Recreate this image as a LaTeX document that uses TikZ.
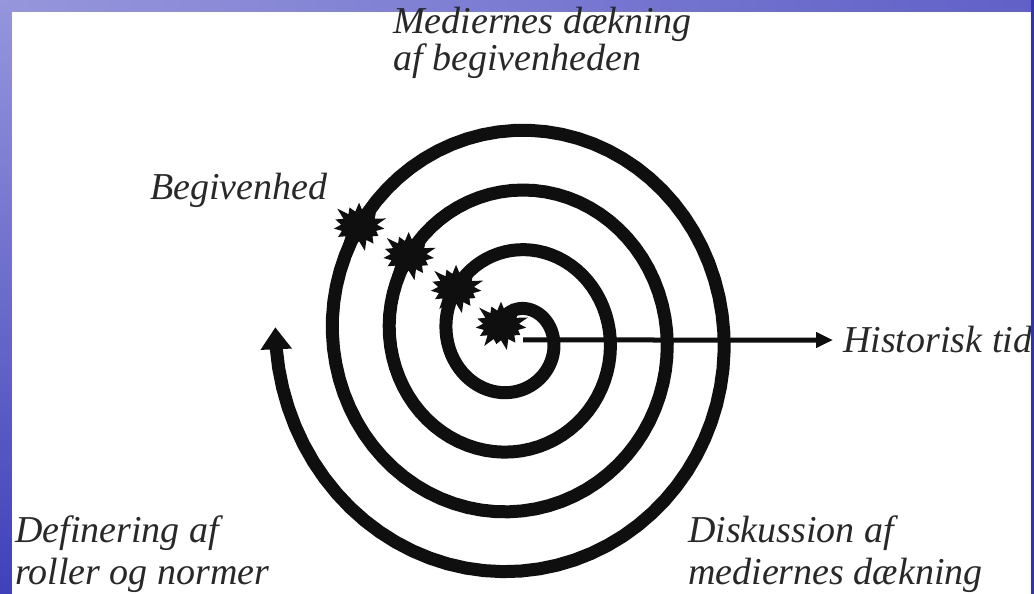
\documentclass[tikz,border=0pt]{standalone}
\usepackage{fontspec}
\setmainfont{Liberation Serif}
\usetikzlibrary{
  arrows.meta,
  shapes.symbols
}
\definecolor{inkblack}{RGB}{15,15,15}
\definecolor{labelgray}{RGB}{40,40,40}
\definecolor{framelight}{RGB}{150,150,220}
\definecolor{framemid}{RGB}{96,96,200}
\definecolor{framedark}{RGB}{64,64,186}
\definecolor{frameedge}{RGB}{52,52,170}

\begin{document}
\pgfmathsetseed{7}
\begin{tikzpicture}[x=1pt, y=1pt,
    every node/.style={inner sep=0pt, text=labelgray},
    toplabel/.style={anchor=base west, align=left, font=\fontsize{38}{37}\selectfont\itshape},
    bottomlabel/.style={anchor=base west, align=left, font=\fontsize{38}{42}\selectfont\itshape},
    burst/.style={starburst, starburst points=15, starburst point height=12pt,
      minimum width=60pt, minimum height=54pt, fill=inkblack, draw=none}]
            % Frame
            \useasboundingbox (0,0) rectangle (1034,594);
            \fill[framemid] (0,0) rectangle (1034,594);
            \shade[left color=framelight, right color=framemid] (0,582) rectangle (1034,594);
            \shade[top color=framelight, bottom color=framedark] (0,0) rectangle (12,594);
            \fill[white] (12,0) rectangle (1031,582);

            % Spiral
            \draw[line width=13pt, draw=inkblack, line join=round, -{Triangle[width=30pt, length=22pt]}]
              plot[domain=-140:1262, samples=300, variable=\t]
              ({514+(39+0.158333*\t)*cos(\t)}, {258-1.05*(39+0.158333*\t)*sin(\t)});

            % Events on the spiral
            \foreach \t [count=\i] in {-142,218,576,934} {
              \pgfmathsetmacro{\r}{39+0.158333*\t}
              \node[burst] (burst\i) at ({514+\r*cos(\t)}, {258-1.05*\r*sin(\t)}) {};
            }

            % Labels
            \node[toplabel] (coverage) at (393,523) {Mediernes dækning\\af begivenheden};
            \node[toplabel] (event) at (150,394) {Begivenhed};
            \node[toplabel] (histtid) at (843,241) {Historisk tid};
            \node[bottomlabel] (roles) at (15,9) {Definering af\\roller og normer};
            \node[bottomlabel] (debate) at (688,9) {Diskussion af\\mediernes dækning};

            % Time axis
            \coordinate (hub) at (523,254);
            \draw[line width=5pt, draw=inkblack, -{Triangle[width=15pt, length=17pt]}]
              (hub) -- ([xshift=-10pt]histtid.west);

            \fill[frameedge] (1031,0) rectangle (1034,594);
        \end{tikzpicture}
\end{document}
